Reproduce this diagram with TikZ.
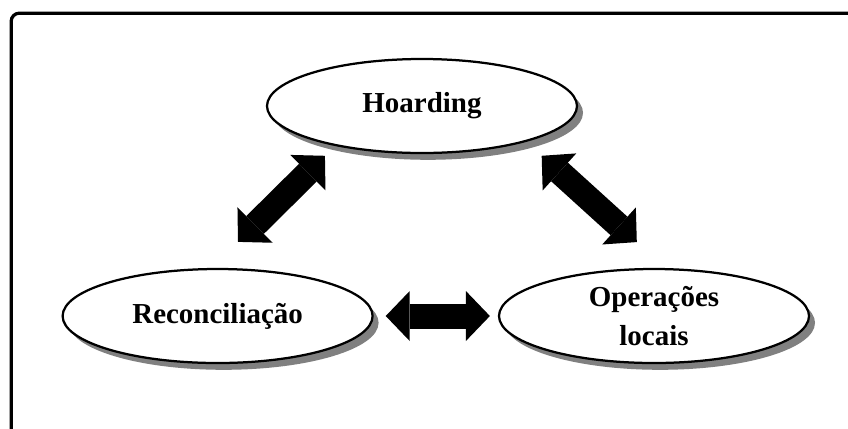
\documentclass[tikz,border=0pt]{standalone}
\usepackage{fontspec}
\setmainfont{Liberation Serif}
\usetikzlibrary{shapes.geometric,shadows,arrows.meta}

\begin{document}
\begin{tikzpicture}[
        ellnode/.style={ellipse, draw=black, line width=1.6pt, fill=white, inner sep=0pt, minimum width=7.75cm, minimum height=2.35cm, align=center, font=\fontsize{20.6}{27.5}\selectfont\bfseries, drop shadow={shadow xshift=0.15cm, shadow yshift=-0.17cm, fill=black!50, opacity=1}},
        fatarrow/.style={line width=0.625cm, {Triangle[length=0.6cm,width=1.25cm,line width=0pt]}-{Triangle[length=0.6cm,width=1.25cm,line width=0pt]}}
    ]
        \clip (0,0) rectangle (21.2,-10.7);
        % Frame
        \draw[line width=2.3pt, rounded corners=0.2cm] (0.28,-0.33) rectangle (22,-11.5);

        % Nodes
        \node[ellnode] (hoard) at (10.55,-2.65) {Hoarding};
        \node[ellnode] (rec) at (5.44,-7.9) {Reconciliação};
        \node[ellnode] (ops) at (16.35,-7.9) {Operações\\locais};

        % Arrows
        \draw[fatarrow] ([xshift=0.51cm,yshift=0.65cm]rec.north) -- ([xshift=0.333cm,yshift=-0.394cm]hoard.south west);
        \draw[fatarrow] ([xshift=0.232cm,yshift=-0.394cm]hoard.south east) -- ([xshift=-0.43cm,yshift=0.645cm]ops.north);
        \draw[fatarrow, shorten <=0.3cm, shorten >=0.2cm] (rec) -- (ops);
    \end{tikzpicture}
\end{document}
